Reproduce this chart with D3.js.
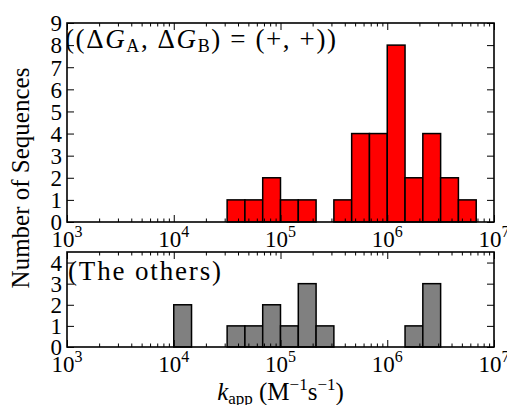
<!DOCTYPE html>
<html><head><meta charset="utf-8">
<script src="https://cdn.jsdelivr.net/npm/d3@7"></script>
<style>body{margin:0;background:#fff}svg{display:block}</style>
</head><body><svg id="c" width="507" height="405"></svg>
<script>
// bin lower edges (log10 of k_app), bin width 1/6 decade
const binWidthDec = 1/6;
const topBinLo = [4.5, 4.6667, 4.8333, 5.0, 5.1667, 5.5, 5.6667, 5.8333, 6.0, 6.1667, 6.3333, 6.5, 6.6667];
const topCounts = [1, 1, 2, 1, 1, 1, 4, 4, 8, 2, 4, 2, 1];
const botBinLo = [4.0, 4.5, 4.6667, 4.8333, 5.0, 5.1667, 5.3333, 6.1667, 6.3333];
const botCounts = [2, 1, 1, 2, 1, 3, 1, 1, 3];
const xTickExps = [3, 4, 5, 6, 7];
const topYTicks = [0,1,2,3,4,5,6,7,8,9];
const botYTicks = [0,1,2,3,4];

const FONT = "Liberation Serif";
const svg = d3.select("#c").style("font-family", FONT);
const L = 67, R = 494;
const x = d3.scaleLog().domain([1e3, 1e7]).range([L, R]);

const minorVals = [];
for (let e = 3; e < 7; e++) for (let m = 2; m <= 9; m++) minorVals.push(m * Math.pow(10, e));

function panel(top, bottom, ymax, yticks, lo, counts, color, label, labelY) {
  const y = d3.scaleLinear().domain([0, ymax]).range([bottom, top]);
  const g = svg.append("g");
  const cid = "clip" + top;
  svg.append("clipPath").attr("id", cid).append("rect")
    .attr("x", L).attr("y", top).attr("width", R - L).attr("height", bottom - top);
  g.selectAll("rect.bar").data(lo.map((e, i) => ({e, c: counts[i]}))).join("rect")
    .attr("class", "bar")
    .attr("x", d => x(Math.pow(10, d.e)))
    .attr("width", d => x(Math.pow(10, d.e + binWidthDec)) - x(Math.pow(10, d.e)))
    .attr("y", d => y(d.c))
    .attr("height", d => y(0) - y(d.c))
    .attr("fill", color).attr("stroke", "#000").attr("stroke-width", 1.5);

  const majorVals = xTickExps.map(e => Math.pow(10, e));
  g.append("g").attr("transform", `translate(0,${bottom})`)
    .call(d3.axisBottom(x).tickValues(majorVals).tickSizeInner(-7).tickSizeOuter(0).tickFormat(""));
  g.append("g").attr("transform", `translate(0,${bottom})`)
    .call(d3.axisBottom(x).tickValues(minorVals).tickSizeInner(-3.5).tickSizeOuter(0).tickFormat(""));
  g.append("g").attr("transform", `translate(0,${top})`)
    .call(d3.axisTop(x).tickValues(majorVals).tickSizeInner(-7).tickSizeOuter(0).tickFormat(""));
  g.append("g").attr("transform", `translate(0,${top})`)
    .call(d3.axisTop(x).tickValues(minorVals).tickSizeInner(-3.5).tickSizeOuter(0).tickFormat(""));
  const yl = g.append("g").attr("transform", `translate(${L},0)`)
    .call(d3.axisLeft(y).tickValues(yticks).tickSizeInner(-7).tickSizeOuter(0).tickPadding(5).tickFormat(d3.format("d")));
  g.append("g").attr("transform", `translate(${R},0)`)
    .call(d3.axisRight(y).tickValues(yticks).tickSizeInner(-7).tickSizeOuter(0).tickFormat(""));
  g.selectAll(".domain").remove();
  g.selectAll(".tick line").attr("stroke", "#000").attr("stroke-width", 1);
  g.selectAll("g").attr("font-family", null);
  yl.selectAll("text").attr("font-size", 23).attr("fill", "#000").attr("dy", "0.34em");
  xTickExps.forEach(e => {
    const t = g.append("text").attr("x", x(Math.pow(10, e))).attr("y", bottom + 25)
      .attr("text-anchor", "middle").attr("font-size", 23).attr("fill", "#000");
    t.append("tspan").text("10");
    t.append("tspan").attr("font-size", 16).attr("dy", -10).text(String(e));
  });
  g.append("rect").attr("x", L).attr("y", top).attr("width", R - L).attr("height", bottom - top)
    .attr("fill", "none").attr("stroke", "#000").attr("stroke-width", 1.6);
  const lt = g.append("text").attr("clip-path", `url(#${cid})`)
    .attr("font-size", 27).attr("fill", "#000").attr("lengthAdjust", "spacing");
  label(lt, labelY);
}

panel(23, 222, 9, topYTicks, topBinLo, topCounts, "#ff0000", (t, yb) => {
  t.attr("x", 65).attr("y", yb).attr("textLength", 271);
  t.append("tspan").text("((Δ");
  t.append("tspan").attr("font-style", "italic").text("G");
  t.append("tspan").attr("font-size", 18).attr("dy", 4).text("A");
  t.append("tspan").attr("dy", -4).text(", Δ");
  t.append("tspan").attr("font-style", "italic").text("G");
  t.append("tspan").attr("font-size", 18).attr("dy", 4).text("B");
  t.append("tspan").attr("dy", -4).text(") = (+, +))");
}, 48);

panel(252, 347, 4.5, botYTicks, botBinLo, botCounts, "#808080", (t, yb) => {
  t.attr("x", 68).attr("y", yb).attr("textLength", 153).text("(The others)");
}, 280);

svg.append("text").attr("transform", "translate(29,178) rotate(-90)")
  .attr("text-anchor", "middle").attr("font-size", 25).attr("fill", "#000")
  .text("Number of Sequences");

const xl = svg.append("text").attr("x", (L + R) / 2).attr("y", 400).attr("text-anchor", "middle")
  .attr("font-size", 25).attr("fill", "#000");
xl.append("tspan").attr("font-style", "italic").text("k");
xl.append("tspan").attr("font-size", 17).attr("dy", 4).text("app");
xl.append("tspan").attr("dy", -4).text(" (M");
xl.append("tspan").attr("font-size", 17).attr("dy", -10).text("−1");
xl.append("tspan").attr("dy", 10).text("s");
xl.append("tspan").attr("font-size", 17).attr("dy", -10).text("−1");
xl.append("tspan").attr("dy", 10).text(")");
</script></body></html>
